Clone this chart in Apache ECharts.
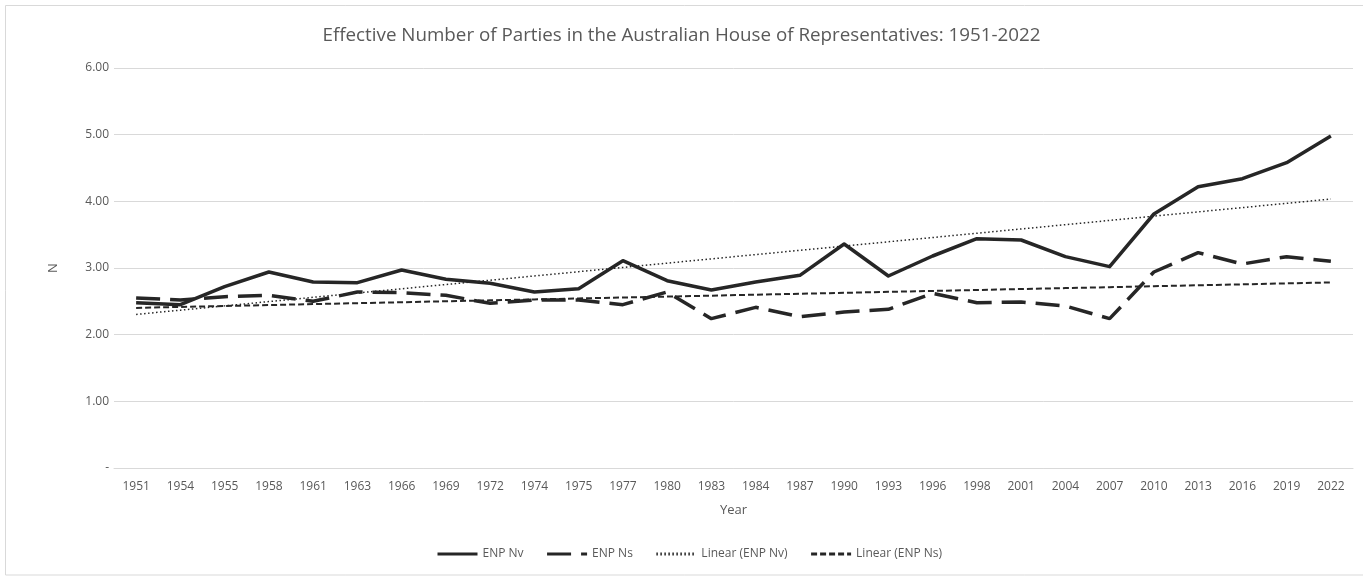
<!DOCTYPE html>
<html>
<head>
<meta charset="utf-8">
<title>Effective Number of Parties</title>
<script src="https://cdn.jsdelivr.net/npm/echarts@6/dist/echarts.min.js"></script>
<style>
  html, body { margin: 0; padding: 0; background: #fff; }
  #chart { width: 1363px; height: 579px; }
</style>
</head>
<body>
<div id="chart"></div>
<script>
// Election years (category axis)
const years = ['1951','1954','1955','1958','1961','1963','1966','1969','1972','1974','1975','1977','1980','1983',
  '1984','1987','1990','1993','1996','1998','2001','2004','2007','2010','2013','2016','2019','2022'];

// Effective number of parties by votes
const enpNv = [2.48,2.45,2.72,2.94,2.79,2.78,2.97,2.83,2.77,2.64,2.69,3.11,2.81,2.67,
  2.79,2.89,3.36,2.88,3.18,3.44,3.42,3.17,3.02,3.81,4.22,4.34,4.58,4.98];

// Effective number of parties by seats
const enpNs = [2.55,2.52,2.57,2.59,2.50,2.64,2.63,2.59,2.47,2.52,2.52,2.45,2.64,2.24,
  2.41,2.27,2.34,2.38,2.62,2.48,2.49,2.43,2.24,2.94,3.23,3.06,3.17,3.10];

// Value axis ticks
const yTicks = [0, 1, 2, 3, 4, 5, 6];

// Ordinary least-squares trend over the category index (1..n)
function linearTrend(values) {
  const n = values.length;
  let sx = 0, sy = 0, sxy = 0, sxx = 0;
  values.forEach((v, i) => {
    const x = i + 1;
    sx += x; sy += v; sxy += x * v; sxx += x * x;
  });
  const slope = (n * sxy - sx * sy) / (n * sxx - sx * sx);
  const icpt = (sy - slope * sx) / n;
  return values.map((_, i) => +(icpt + slope * (i + 1)).toFixed(4));
}

const trendNv = linearTrend(enpNv);
const trendNs = linearTrend(enpNs);

const ink = '#262626';
const textGrey = '#595959';
const gridGrey = '#d9d9d9';
const font = '"Open Sans", "Liberation Sans", sans-serif';

const chart = echarts.init(document.getElementById('chart'), null, { renderer: 'canvas' });

chart.setOption({
  animation: false,
  backgroundColor: '#fff',
  textStyle: { fontFamily: font },
  title: {
    text: 'Effective Number of Parties in the Australian House of Representatives: 1951-2022',
    left: 'center',
    top: 21,
    textStyle: { fontFamily: font, fontSize: 18.8, fontWeight: 'normal', color: textGrey }
  },
  graphic: [{
    type: 'rect',
    silent: true,
    shape: { x: 5.5, y: 5.5, width: 1400, height: 569.5 },
    style: { fill: 'none', stroke: gridGrey, lineWidth: 1 }
  }],
  grid: { left: 114, right: 10, top: 68, bottom: 111, containLabel: false },
  legend: {
    bottom: 14,
    left: 431,
    itemWidth: 40,
    itemHeight: 10,
    itemGap: 22,
    itemStyle: { opacity: 0 },
    lineStyle: { width: 3 },
    textStyle: { fontFamily: font, fontSize: 12, color: textGrey },
    data: ['ENP Nv', 'ENP Ns', 'Linear (ENP Nv)', 'Linear (ENP Ns)']
  },
  xAxis: {
    type: 'category',
    data: years,
    boundaryGap: true,
    name: 'Year',
    nameLocation: 'middle',
    nameGap: 36,
    nameTextStyle: { fontFamily: font, fontSize: 13, color: textGrey },
    axisLine: { lineStyle: { color: gridGrey, width: 1 } },
    axisTick: { show: false },
    axisLabel: { fontFamily: font, fontSize: 12, color: textGrey, margin: 13, interval: 0 }
  },
  yAxis: {
    type: 'value',
    min: yTicks[0],
    max: yTicks[yTicks.length - 1],
    interval: 1,
    name: 'N',
    nameLocation: 'middle',
    nameRotate: 90,
    nameGap: 54,
    nameTextStyle: { fontFamily: font, fontSize: 13, color: textGrey },
    axisLine: { show: false },
    axisTick: { show: false },
    splitLine: { lineStyle: { color: gridGrey, width: 1 } },
    axisLabel: {
      fontFamily: font, fontSize: 12, color: textGrey, margin: 5,
      formatter: v => (v === 0 ? '-' : v.toFixed(2))
    }
  },
  series: [
    {
      name: 'ENP Nv', type: 'line', data: enpNv,
      symbol: 'none', z: 4,
      lineStyle: { color: ink, width: 3.5, join: 'round' },
      itemStyle: { color: ink }
    },
    {
      name: 'ENP Ns', type: 'line', data: enpNs,
      symbol: 'none', z: 3,
      lineStyle: { color: ink, width: 3.5, type: [24, 10] },
      itemStyle: { color: ink }
    },
    {
      name: 'Linear (ENP Nv)', type: 'line', data: trendNv,
      symbol: 'none', z: 2,
      lineStyle: { color: ink, width: 1.5, type: [1.5, 2.5] },
      itemStyle: { color: ink }
    },
    {
      name: 'Linear (ENP Ns)', type: 'line', data: trendNs,
      symbol: 'none', z: 2,
      lineStyle: { color: ink, width: 2, type: [6, 3] },
      itemStyle: { color: ink }
    }
  ]
});
</script>
</body>
</html>
